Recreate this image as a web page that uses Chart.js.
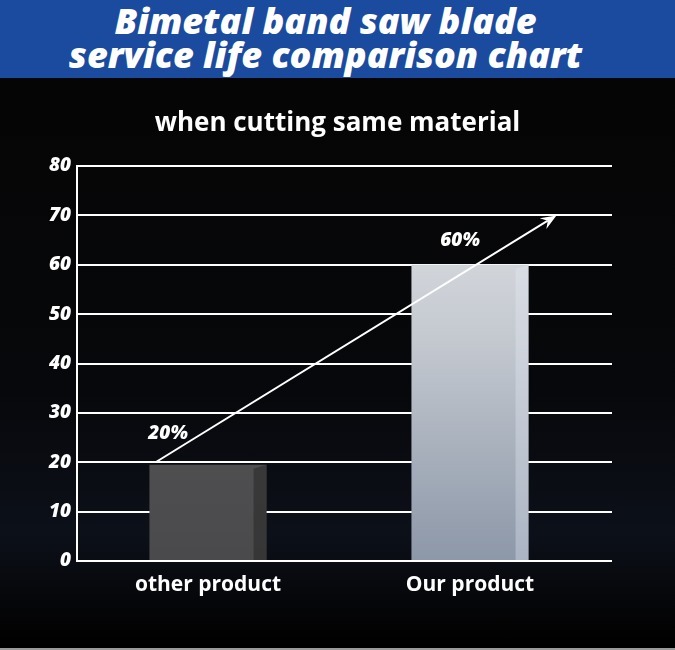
<!DOCTYPE html>
<html lang="en">
<head>
  <meta charset="UTF-8" />
  <title>Bimetal band saw blade service life comparison chart</title>
  <script src="https://cdn.jsdelivr.net/npm/chart.js"></script>
  <style>
    html, body {
      margin: 0;
      padding: 0;
      background: #000;
      width: 675px;
      height: 650px;
      overflow: hidden;
    }
    .header {
      height: 78px;
      background: #1a4b9e;
      color: #fff;
      text-align: center;
      font-family: "Open Sans", sans-serif;
      font-weight: 800;
      font-style: italic;
      font-size: 36px;
      line-height: 34px;
      padding-top: 4px;
      padding-right: 24px;
      box-sizing: border-box;
    }
    .chart-wrap {
      position: relative;
      width: 675px;
      height: 572px;
      background: linear-gradient(to bottom, #050505 0%, #07080b 55%, #0c1019 80%, #030304 96%, #000 100%);
      border-bottom: 2px solid #9a9a9a;
      box-sizing: border-box;
    }
    .subtitle {
      position: absolute;
      left: 0;
      width: 675px;
      top: 26px;
      text-align: center;
      color: #fff;
      font-family: "Open Sans", sans-serif;
      font-weight: 700;
      font-size: 26px;
      line-height: 34px;
    }
  </style>
</head>
<body>
  <div class="header">Bimetal band saw blade<br>service life comparison chart</div>
  <div class="chart-wrap">
    <div class="subtitle">when cutting same material</div>
    <canvas id="lifeChart" width="675" height="570"></canvas>
  </div>

  <script>
    const categories = ['other product', 'Our product'];
    const lifeValues = [19.5, 60];
    const pctLabels = ['20%', '60%'];
    const yTicks = [0, 10, 20, 30, 40, 50, 60, 70, 80];
    // arrow from / to in [category index, value]
    const arrowFrom = [-0.2, 20];
    const arrowTo = [1.33, 70];

    const barFill = (ctx) => {
      const chart = ctx.chart;
      const area = chart.chartArea;
      if (!area) return '#666';
      const g = chart.ctx.createLinearGradient(0, area.top, 0, area.bottom);
      if (ctx.dataIndex === 0) {
        g.addColorStop(0, '#5c5c5c');
        g.addColorStop(1, '#4a4a4c');
      } else {
        g.addColorStop(0, '#e3e5e8');
        g.addColorStop(0.45, '#c3c8cf');
        g.addColorStop(1, '#8c97a8');
      }
      return g;
    };

    const decorPlugin = {
      id: 'decor',
      beforeDatasetsDraw(chart) {
        // grid lines run a little past the last category
        const ctx = chart.ctx;
        const y = chart.scales.y;
        const r = chart.chartArea.right;
        ctx.save();
        ctx.strokeStyle = '#fff';
        ctx.lineWidth = 2;
        y.ticks.forEach(t => {
          const py = Math.round(y.getPixelForValue(t.value));
          ctx.beginPath();
          ctx.moveTo(r - 14, py);
          ctx.lineTo(r + 11, py);
          ctx.stroke();
        });
        ctx.restore();
      },
      afterDatasetsDraw(chart) {
        const ctx = chart.ctx;
        const meta = chart.getDatasetMeta(0);
        const x = chart.scales.x;
        const y = chart.scales.y;

        // side face of each block
        meta.data.forEach((bar, i) => {
          const right = bar.x + bar.width / 2;
          const side = 13;
          ctx.save();
          ctx.fillStyle = i === 0 ? 'rgba(30,30,32,0.45)' : 'rgba(230,236,245,0.35)';
          ctx.beginPath();
          ctx.moveTo(right - side, bar.y + 4);
          ctx.lineTo(right, bar.y);
          ctx.lineTo(right, bar.base);
          ctx.lineTo(right - side, bar.base);
          ctx.closePath();
          ctx.fill();
          ctx.restore();
        });

        // arrow
        const x0 = x.getPixelForValue(arrowFrom[0]);
        const y0 = y.getPixelForValue(arrowFrom[1]);
        const x1 = x.getPixelForValue(arrowTo[0]);
        const y1 = y.getPixelForValue(arrowTo[1]);
        const ang = Math.atan2(y1 - y0, x1 - x0);
        const head = 17;
        ctx.save();
        ctx.strokeStyle = '#fff';
        ctx.fillStyle = '#fff';
        ctx.lineWidth = 2;
        ctx.beginPath();
        ctx.moveTo(x0, y0);
        ctx.lineTo(x1 - Math.cos(ang) * head * 0.6, y1 - Math.sin(ang) * head * 0.6);
        ctx.stroke();
        ctx.beginPath();
        ctx.moveTo(x1, y1);
        ctx.lineTo(x1 - head * Math.cos(ang - 0.38), y1 - head * Math.sin(ang - 0.38));
        ctx.lineTo(x1 - head * 0.6 * Math.cos(ang), y1 - head * 0.6 * Math.sin(ang));
        ctx.lineTo(x1 - head * Math.cos(ang + 0.38), y1 - head * Math.sin(ang + 0.38));
        ctx.closePath();
        ctx.fill();
        ctx.restore();

        // percentage labels
        ctx.save();
        ctx.fillStyle = '#fff';
        ctx.font = 'italic 800 19px "Open Sans", sans-serif';
        ctx.textAlign = 'center';
        ctx.textBaseline = 'middle';
        meta.data.forEach((bar, i) => {
          const dx = i === 0 ? -40 : -10;
          const dy = i === 0 ? 31 : 24;
          ctx.fillText(pctLabels[i], bar.x + dx, bar.y - dy);
        });
        ctx.restore();
      }
    };

    new Chart(document.getElementById('lifeChart'), {
      type: 'bar',
      data: {
        labels: categories,
        datasets: [{
          data: lifeValues,
          backgroundColor: barFill,
          borderWidth: 0,
          barPercentage: 0.894,
          categoryPercentage: 0.5
        }]
      },
      options: {
        responsive: false,
        animation: false,
        layout: { padding: { left: 0, right: 74, top: 88, bottom: 0 } },
        plugins: {
          legend: { display: false },
          tooltip: { enabled: false },
          title: { display: false }
        },
        scales: {
          x: {
            grid: { display: false },
            border: { display: false },
            ticks: {
              color: '#fff',
              padding: 3,
              font: { family: '"Open Sans", sans-serif', size: 21, weight: '700' }
            },
            afterFit(scale) { scale.height = 87; }
          },
          y: {
            min: 0,
            max: 80,
            afterBuildTicks(scale) { scale.ticks = yTicks.map(v => ({ value: v })); },
            grid: { color: '#fff', lineWidth: 2, drawTicks: false },
            border: { display: true, color: '#fff', width: 2 },
            ticks: {
              color: '#fff',
              padding: 6,
              font: { family: '"Open Sans", sans-serif', size: 19, weight: '800', style: 'italic' }
            },
            afterFit(scale) { scale.width = 77; }
          }
        }
      },
      plugins: [decorPlugin]
    });
  </script>
</body>
</html>
